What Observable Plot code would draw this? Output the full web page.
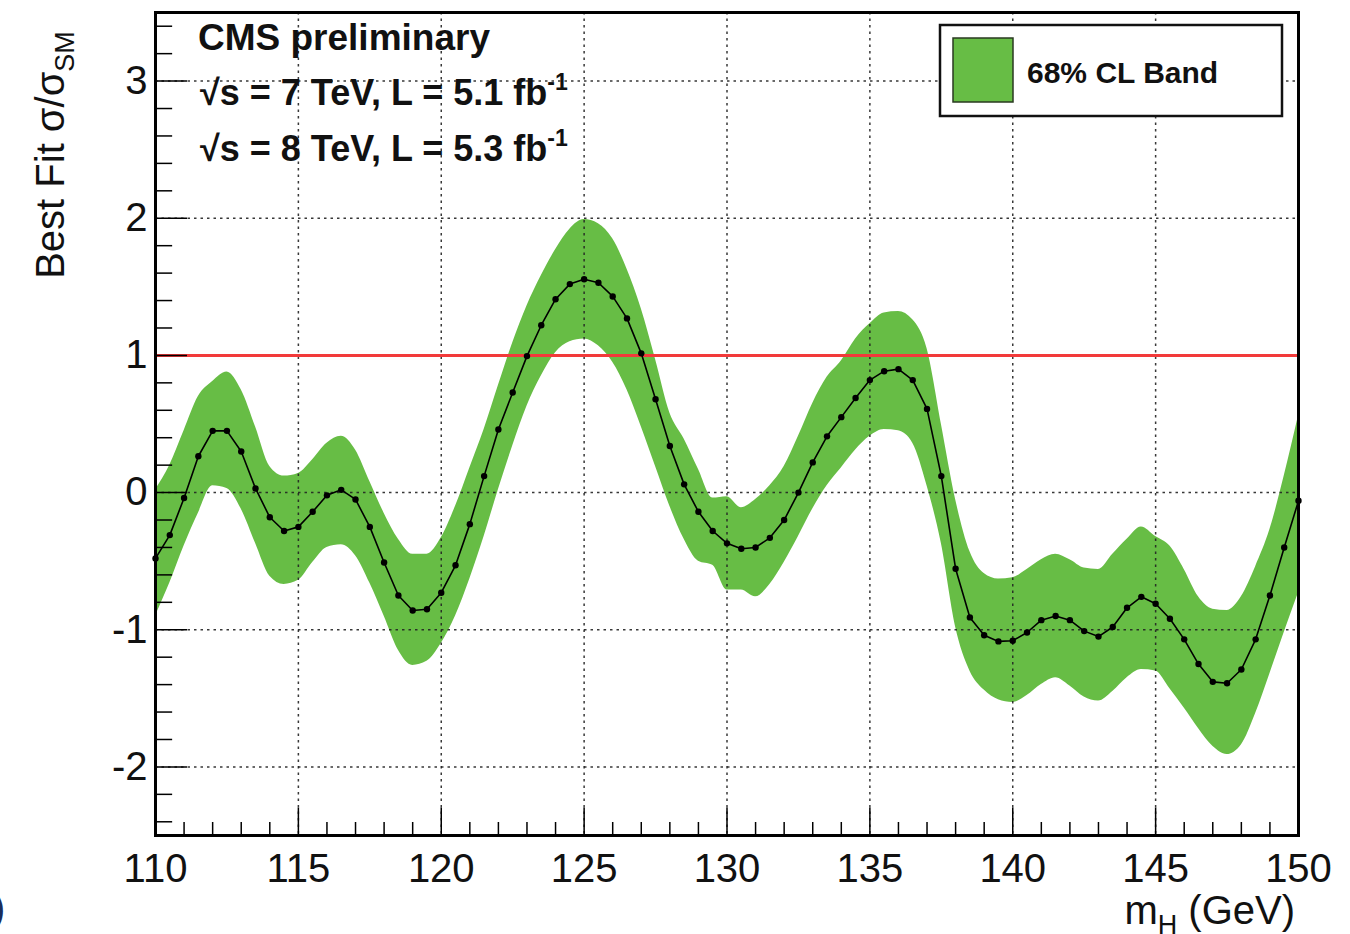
<!DOCTYPE html>
<html><head><meta charset="utf-8">
<script src="https://cdn.jsdelivr.net/npm/d3@7"></script>
<script src="https://cdn.jsdelivr.net/npm/@observablehq/plot@0.6"></script>
<style>body{margin:0;background:#fff} #chart{width:1350px;height:934px;overflow:hidden}</style>
</head><body><div id="chart"></div>
<script>
const masses = [110,110.5,111,111.5,112,112.5,113,113.5,114,114.5,115,115.5,116,116.5,117,117.5,118,118.5,119,119.5,
120,120.5,121,121.5,122,122.5,123,123.5,124,124.5,125,125.5,126,126.5,127,127.5,128,128.5,129,129.5,
130,130.5,131,131.5,132,132.5,133,133.5,134,134.5,135,135.5,136,136.5,137,137.5,138,138.5,139,139.5,
140,140.5,141,141.5,142,142.5,143,143.5,144,144.5,145,145.5,146,146.5,147,147.5,148,148.5,149,149.5,150];
const bestFit = [-0.48,-0.31,-0.04,0.265,0.45,0.45,0.30,0.03,-0.18,-0.28,-0.25,-0.14,-0.02,0.02,-0.05,-0.25,-0.51,-0.75,-0.86,-0.85,
-0.73,-0.53,-0.23,0.12,0.46,0.73,0.995,1.22,1.41,1.52,1.555,1.53,1.43,1.27,1.015,0.68,0.34,0.06,-0.14,-0.28,
-0.37,-0.41,-0.40,-0.33,-0.20,0.00,0.22,0.41,0.55,0.69,0.82,0.885,0.90,0.82,0.61,0.12,-0.555,-0.91,-1.04,-1.085,
-1.08,-1.02,-0.93,-0.90,-0.93,-1.01,-1.05,-0.98,-0.84,-0.76,-0.81,-0.92,-1.07,-1.25,-1.38,-1.39,-1.29,-1.07,-0.75,-0.40,-0.06];
const bandUp = [0.02,0.20,0.45,0.70,0.81,0.88,0.75,0.48,0.19,0.12,0.14,0.24,0.36,0.41,0.31,0.08,-0.15,-0.34,-0.45,-0.45,
-0.33,-0.10,0.18,0.46,0.78,1.09,1.36,1.58,1.77,1.92,1.99,1.96,1.85,1.63,1.34,0.97,0.58,0.39,0.17,-0.04,
-0.03,-0.11,-0.05,0.05,0.19,0.41,0.65,0.84,0.96,1.12,1.23,1.31,1.32,1.26,1.05,0.50,-0.05,-0.43,-0.59,-0.63,
-0.62,-0.56,-0.49,-0.45,-0.49,-0.55,-0.56,-0.45,-0.34,-0.25,-0.32,-0.39,-0.56,-0.76,-0.85,-0.86,-0.76,-0.54,-0.27,0.12,0.56];
const bandLo = [-0.90,-0.66,-0.39,-0.15,0.05,0.03,-0.12,-0.37,-0.61,-0.67,-0.64,-0.51,-0.40,-0.38,-0.46,-0.66,-0.90,-1.15,-1.26,-1.23,
-1.10,-0.90,-0.63,-0.32,0.02,0.34,0.63,0.85,1.02,1.10,1.12,1.07,0.95,0.75,0.48,0.19,-0.10,-0.34,-0.50,-0.53,
-0.71,-0.71,-0.76,-0.67,-0.51,-0.32,-0.12,0.05,0.18,0.31,0.41,0.46,0.45,0.36,0.05,-0.37,-0.98,-1.30,-1.44,-1.51,
-1.53,-1.48,-1.40,-1.35,-1.41,-1.49,-1.52,-1.45,-1.35,-1.29,-1.30,-1.43,-1.57,-1.72,-1.85,-1.91,-1.84,-1.61,-1.32,-1.02,-0.73];
const xTicks = [110,115,120,125,130,135,140,145,150];
const xMinor = [111,112,113,114,116,117,118,119,121,122,123,124,126,127,128,129,131,132,133,134,136,137,138,139,141,142,143,144,146,147,148,149];
const yTicks = [-2,-1,0,1,2,3];
const yMinor = [-2.4,-2.2,-1.8,-1.6,-1.4,-1.2,-0.8,-0.6,-0.4,-0.2,0.2,0.4,0.6,0.8,1.2,1.4,1.6,1.8,2.2,2.4,2.6,2.8,3.2,3.4];
const smReference = [1];
const xDomain = [110,150];
const yDomain = [-2.5,3.5];

const rows = masses.map((m,i)=>({m, mu: bestFit[i], lo: bandLo[i], hi: bandUp[i]}));
const font = "'Liberation Sans', Arial, Helvetica, sans-serif";
const green = "#67bd45";

const plot = Plot.plot({
  width: 1350, height: 934,
  marginLeft: 155, marginRight: 52, marginTop: 12, marginBottom: 99,
  style: {fontFamily: font, background: "white", color: "#111", overflow: "visible"},
  x: {domain: xDomain},
  y: {domain: yDomain},
  marks: [
    Plot.areaY(rows, {x: "m", y1: "lo", y2: "hi", fill: green, curve: "monotone-x"}),
    Plot.gridX(xTicks.slice(1,-1), {stroke: "#222", strokeOpacity: 0.9, strokeWidth: 1.5, strokeDasharray: "2.5,4"}),
    Plot.gridY(yTicks, {stroke: "#222", strokeOpacity: 0.9, strokeWidth: 1.5, strokeDasharray: "2.5,4"}),
    Plot.ruleY(smReference, {stroke: "#f23a3a", strokeWidth: 3}),
    Plot.line(rows, {x: "m", y: "mu", stroke: "#000", strokeWidth: 1.6}),
    Plot.dot(rows, {x: "m", y: "mu", r: 3.2, fill: "#000", stroke: "none"}),
    Plot.ruleX(xTicks, {x: d => d, y1: yDomain[0], y2: yDomain[0] + 0.2, stroke: "#000", strokeWidth: 1.5}),
    Plot.ruleX(xMinor, {x: d => d, y1: yDomain[0], y2: yDomain[0] + 0.095, stroke: "#000", strokeWidth: 1.5}),
    Plot.ruleY(yTicks, {y: d => d, x1: xDomain[0], x2: xDomain[0] + 1.12, stroke: "#000", strokeWidth: 1.5}),
    Plot.ruleY(yMinor, {y: d => d, x1: xDomain[0], x2: xDomain[0] + 0.6, stroke: "#000", strokeWidth: 1.5}),
    Plot.axisX(xTicks, {tickSize: 0, tickPadding: 18, fontSize: 40, label: null, tickFormat: d => String(d)}),
    Plot.axisY(yTicks, {tickSize: 0, tickPadding: 8, fontSize: 40, label: null, tickFormat: d => String(d)}),
    Plot.frame({stroke: "#000", strokeWidth: 3})
  ]
});
document.getElementById("chart").appendChild(plot);

const svg = d3.select(plot);
const g = svg.append("g").attr("font-family", font).attr("fill", "#111").attr("text-anchor", "start");

// CMS annotation
g.append("text").attr("x", 198).attr("y", 50).attr("text-anchor", "start").attr("font-size", 37).attr("font-weight", "bold").text("CMS preliminary");
const lumi = [["√s = 7 TeV, L = 5.1 fb", 105], ["√s = 8 TeV, L = 5.3 fb", 161]];
lumi.forEach(([t, y]) => {
  const tx = g.append("text").attr("x", 200).attr("y", y).attr("text-anchor", "start").attr("font-size", 36).attr("font-weight", "bold");
  tx.append("tspan").text(t);
  tx.append("tspan").attr("font-size", 23).attr("dy", -15).text("-1");
});

// Legend
const lg = svg.append("g").attr("font-family", font).attr("text-anchor", "start");
lg.append("rect").attr("x", 940).attr("y", 25).attr("width", 342).attr("height", 91).attr("fill", "white").attr("stroke", "#111").attr("stroke-width", 2.5);
lg.append("rect").attr("x", 953).attr("y", 38).attr("width", 60).attr("height", 64).attr("fill", green).attr("stroke", "#2a3a20").attr("stroke-width", 1.5);
lg.append("text").attr("x", 1027).attr("y", 83).attr("text-anchor", "start").attr("font-size", 30).attr("font-weight", "bold").attr("fill", "#111").text("68% CL Band");

// Y label
const yl = g.append("text").attr("transform", "translate(64,155) rotate(-90)").attr("text-anchor", "middle").attr("font-size", 40);
yl.append("tspan").text("Best Fit σ/σ");
yl.append("tspan").attr("font-size", 27).attr("dy", 10).text("SM");

// X label
const xl = g.append("text").attr("x", 1295).attr("y", 924).attr("text-anchor", "end").attr("font-size", 40);
xl.append("tspan").text("m");
xl.append("tspan").attr("font-size", 27).attr("dy", 10).text("H");
xl.append("tspan").attr("dy", -10).text(" (GeV)");

// cut-off fragment at lower left
g.append("text").attr("x", -8).attr("y", 922).attr("text-anchor", "start").attr("font-size", 40).attr("fill", "#1b2d5c").text(")");
</script>
</body></html>
